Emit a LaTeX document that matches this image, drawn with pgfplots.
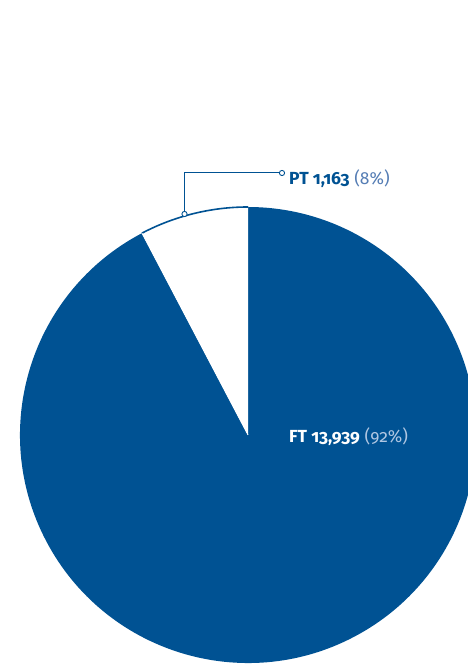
\documentclass[border=0pt]{standalone}
\usepackage{fontspec}
\setmainfont{Fira Sans}[Numbers=OldStyle]
\usepackage{pgfplots}
\pgfplotsset{compat=1.18}
\definecolor{pieblue}{RGB}{0,82,147}
\definecolor{pctdark}{RGB}{85,125,180}
\definecolor{pctlight}{RGB}{175,198,226}
\begin{document}
\begin{tikzpicture}
\begin{axis}[scale only axis, width=468pt, height=666pt,
  xmin=0, xmax=468, ymin=0, ymax=666, hide axis, clip=true]
\pgfmathsetmacro{\ptval}{1.163}
\pgfmathsetmacro{\ftval}{13.939}
\pgfmathsetmacro{\ptang}{360*(\ptval/(\ptval+\ftval))}
\pgfmathsetmacro{\ptend}{90+\ptang}
% FT slice
\fill[pieblue] (axis cs:248,231) -- ++(\ptend:228) arc[start angle=\ptend, end angle=450, radius=228] -- cycle;
% PT slice
\fill[white] (axis cs:248,231) -- ++(90:228) arc[start angle=90, end angle=\ptend, radius=228] -- cycle;
\draw[pieblue, line width=1.6pt] (axis cs:248,231) ++(90:228) arc[start angle=90, end angle=\ptend, radius=228];
\draw[white, line width=0.8pt] (axis cs:248,231) -- ++(\ptend:228);
% leader
\draw[pieblue, line width=1pt] (axis cs:184.5,452) -- (axis cs:184.5,493) -- (axis cs:282,493);
\draw[pieblue, fill=white, line width=0.9pt] (axis cs:184.5,452) circle[radius=2.6pt];
\draw[pieblue, fill=white, line width=0.9pt] (axis cs:282,493) circle[radius=2.6pt];
\node[anchor=west, inner sep=0pt, font=\fontsize{17.5}{20}\selectfont] at (axis cs:289,487)
  {\textcolor{pieblue}{\bfseries PT 1,163} \textcolor{pctdark}{(8\%)}};
\node[anchor=west, inner sep=0pt, font=\fontsize{17.5}{20}\selectfont] at (axis cs:289,229)
  {\textcolor{white}{\bfseries FT 13,939} \textcolor{pctlight}{(92\%)}};
\path (rel axis cs:0,0) rectangle (rel axis cs:1,1);
\end{axis}
\end{tikzpicture}
\end{document}
